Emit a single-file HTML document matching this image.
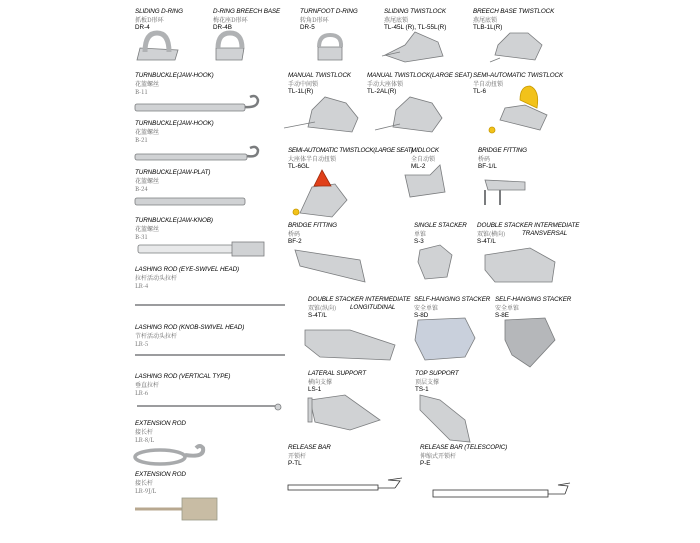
<!DOCTYPE html>
<html><head><meta charset="utf-8"><style>
body{margin:0;background:#fff;width:700px;height:543px;position:relative;overflow:hidden;font-family:"Liberation Sans","Noto Sans CJK SC",sans-serif}
.l{position:absolute;font-size:6.3px;line-height:8px;color:#000;white-space:nowrap}
.l i{font-style:italic;display:block;letter-spacing:-0.1px}
.l s{text-decoration:none;display:block;color:#666;font-family:"Noto Serif CJK SC","Noto Sans CJK SC",serif;font-size:6px}
.l b{font-weight:normal;display:block}
svg{position:absolute;left:0;top:0}
</style></head><body>
<svg width="700" height="543" viewBox="0 0 700 543">
<g fill="#d0d2d4" stroke="#7a7c7e" stroke-width="0.8">
<path d="M137 60 L175 60 L178 50 L140 48Z"/><path d="M145 52 Q145 33 157 33 Q169 33 169 52" fill="none" stroke-width="5" stroke="#b0b2b4"/>
<path d="M216 60 L242 60 L244 48 L216 48Z"/><path d="M218 48 Q218 33 230 33 Q242 33 242 48" fill="none" stroke-width="5" stroke="#b0b2b4"/>
<path d="M318 60 L342 60 L342 47 L318 47Z"/><path d="M319 47 Q319 35 330 35 Q342 35 341 47" fill="none" stroke-width="4" stroke="#b0b2b4"/>
<path d="M385 55 L405 62 L443 56 L438 42 L415 32 L405 45 Z"/><line x1="382" y1="56" x2="400" y2="52"/>
<path d="M495 55 L535 60 L542 45 L528 33 L510 33 L498 45Z"/><line x1="490" y1="62" x2="500" y2="58"/>
<rect x="135" y="104" width="110" height="7" rx="2"/><path d="M245 107 Q258 108 258 100 Q256 94 250 97" fill="none" stroke-width="2.5"/>
<rect x="135" y="154" width="112" height="6" rx="2"/><path d="M247 156 Q258 158 258 150 Q256 145 250 148" fill="none" stroke-width="2.5"/>
<rect x="135" y="198" width="110" height="7" rx="2"/>
<rect x="138" y="245" width="95" height="8" rx="2" fill="#e8e9ea"/><rect x="232" y="242" width="32" height="14"/>
<line x1="135" y1="305" x2="285" y2="305" stroke-width="1.4"/><line x1="135" y1="355" x2="285" y2="355" stroke-width="1.4"/>
<line x1="137" y1="406" x2="275" y2="406" stroke-width="1.4"/><circle cx="278" cy="407" r="3"/>
<ellipse cx="160" cy="457" rx="25" ry="7" fill="none" stroke-width="3.5" stroke="#a8aaac"/><path d="M185 455 Q205 458 203 448 Q200 444 196 448" fill="none" stroke-width="4" stroke="#a8aaac"/>
<line x1="135" y1="509" x2="185" y2="509" stroke-width="3" stroke="#b8a890"/><rect x="182" y="498" width="35" height="22" fill="#c8bca4" stroke="#998"/>
<path d="M308 127 L352 132 L358 118 L346 103 L325 97 L312 110Z"/><line x1="284" y1="128" x2="315" y2="122"/>
<path d="M393 127 L432 132 L442 118 L432 103 L410 97 L396 110Z"/><line x1="375" y1="130" x2="400" y2="124"/>
<path d="M500 120 L540 130 L547 115 L525 105 L505 108Z"/><path d="M520 100 Q520 86 530 86 Q540 90 537 108Z" fill="#f2c21a" stroke="#c89a00"/><circle cx="492" cy="130" r="3" fill="#f2c21a" stroke="#c89a00"/>
<path d="M300 213 L332 217 L347 200 L335 184 L312 187Z"/><path d="M314 186 L322 170 L331 186Z" fill="#e0401a" stroke="#a02a0a"/><circle cx="296" cy="212" r="3" fill="#f2c21a" stroke="#c89a00"/>
<path d="M405 175 L430 175 L440 165 L445 192 L410 197Z"/>
<path d="M485 180 L525 182 L525 190 L488 190Z"/><path d="M485 190 L485 205 M500 190 L500 205" stroke-width="2"/>
<path d="M295 250 L360 260 L365 282 L300 266Z"/>
<path d="M420 250 L440 245 L452 255 L447 277 L425 279 L418 262Z"/>
<path d="M485 255 L530 248 L555 262 L552 282 L495 282 L485 270Z"/>
<path d="M305 330 L350 330 L395 345 L390 360 L320 357 L305 345Z"/>
<path d="M418 320 L465 318 L475 338 L465 357 L425 360 L415 340Z" fill="#c9d0dc"/>
<path d="M505 320 L545 318 L555 340 L530 367 L512 355 L505 340Z" fill="#b5b7ba"/>
<path d="M310 400 L345 395 L380 420 L350 430 L315 422Z"/><rect x="308" y="398" width="4" height="24"/>
<path d="M420 395 L440 400 L465 420 L470 442 L450 440 L430 420 L420 410Z"/>
<rect x="288" y="485" width="90" height="5" fill="#fff" stroke="#333"/><line x1="378" y1="488" x2="395" y2="488" stroke="#333"/><path d="M395 488 L400 481 L388 480 L402 478" fill="none" stroke="#333"/>
<rect x="433" y="490" width="115" height="7" fill="#fff" stroke="#333"/><line x1="548" y1="494" x2="565" y2="494" stroke="#333"/><path d="M565 494 L568 486 L558 485 L570 483" fill="none" stroke="#333"/>
</g>
</svg>
<div class="l" style="left:135px;top:8px"><i>SLIDING D-RING</i><s>抓板D形环</s><b>DR-4</b></div>
<div class="l" style="left:213px;top:8px"><i>D-RING BREECH BASE</i><s>梅花座D形环</s><b>DR-4B</b></div>
<div class="l" style="left:300px;top:8px"><i>TURNFOOT D-RING</i><s>转角D形环</s><b>DR-5</b></div>
<div class="l" style="left:384px;top:8px"><i>SLIDING TWISTLOCK</i><s>燕尾底锁</s><b>TL-45L (R), TL-55L(R)</b></div>
<div class="l" style="left:473px;top:8px"><i>BREECH BASE TWISTLOCK</i><s>燕尾底锁</s><b>TLB-1L(R)</b></div>
<div class="l" style="left:135px;top:72px"><i>TURNBUCKLE(JAW-HOOK)</i><s>花篮螺丝</s><s>B-11</s></div>
<div class="l" style="left:288px;top:72px"><i>MANUAL TWISTLOCK</i><s>手动中间锁</s><b>TL-1L(R)</b></div>
<div class="l" style="left:367px;top:72px"><i>MANUAL TWISTLOCK(LARGE SEAT)</i><s>手动大座体锁</s><b>TL-2AL(R)</b></div>
<div class="l" style="left:473px;top:72px"><i>SEMI-AUTOMATIC TWISTLOCK</i><s>半自动扭锁</s><b>TL-6</b></div>
<div class="l" style="left:135px;top:120px"><i>TURNBUCKLE(JAW-HOOK)</i><s>花篮螺丝</s><s>B-21</s></div>
<div class="l" style="left:288px;top:147px"><i style="letter-spacing:-0.3px">SEMI-AUTOMATIC TWISTLOCK(LARGE SEAT)</i><s>大座体半自动扭锁</s><b>TL-6GL</b></div>
<div class="l" style="left:411px;top:147px"><i>MIDLOCK</i><s>全自动锁</s><b>ML-2</b></div>
<div class="l" style="left:478px;top:147px"><i>BRIDGE FITTING</i><s>桥码</s><b>BF-1/L</b></div>
<div class="l" style="left:135px;top:169px"><i>TURNBUCKLE(JAW-PLAT)</i><s>花篮螺丝</s><s>B-24</s></div>
<div class="l" style="left:135px;top:217px"><i>TURNBUCKLE(JAW-KNOB)</i><s>花篮螺丝</s><s>B-31</s></div>
<div class="l" style="left:288px;top:222px"><i>BRIDGE FITTING</i><s>桥码</s><b>BF-2</b></div>
<div class="l" style="left:414px;top:222px"><i>SINGLE STACKER</i><s>单锥</s><b>S-3</b></div>
<div class="l" style="left:477px;top:222px"><i>DOUBLE STACKER INTERMEDIATE</i><s>双锥(横向)</s><b>S-4T/L</b></div>
<div class="l" style="left:522px;top:230px"><i>TRANSVERSAL</i></div>
<div class="l" style="left:135px;top:266px"><i>LASHING ROD (EYE-SWIVEL HEAD)</i><s>拉杆活动头拉杆</s><s>LR-4</s></div>
<div class="l" style="left:308px;top:296px"><i>DOUBLE STACKER INTERMEDIATE</i><s>双锥(纵向)</s><b>S-4T/L</b></div>
<div class="l" style="left:350px;top:304px"><i>LONGITUDINAL</i></div>
<div class="l" style="left:414px;top:296px"><i>SELF-HANGING STACKER</i><s>安全单锥</s><b>S-8D</b></div>
<div class="l" style="left:495px;top:296px"><i>SELF-HANGING STACKER</i><s>安全单锥</s><b>S-8E</b></div>
<div class="l" style="left:135px;top:324px"><i>LASHING ROD (KNOB-SWIVEL HEAD)</i><s>节杆活动头拉杆</s><s>LR-5</s></div>
<div class="l" style="left:135px;top:373px"><i>LASHING ROD (VERTICAL TYPE)</i><s>垂直拉杆</s><s>LR-6</s></div>
<div class="l" style="left:308px;top:370px"><i>LATERAL SUPPORT</i><s>横向支撑</s><b>LS-1</b></div>
<div class="l" style="left:415px;top:370px"><i>TOP SUPPORT</i><s>顶层支撑</s><b>TS-1</b></div>
<div class="l" style="left:135px;top:420px"><i>EXTENSION ROD</i><s>接长杆</s><s>LR-8/L</s></div>
<div class="l" style="left:288px;top:444px"><i>RELEASE BAR</i><s>开锁杆</s><b>P-TL</b></div>
<div class="l" style="left:420px;top:444px"><i>RELEASE BAR (TELESCOPIC)</i><s>伸缩式开锁杆</s><b>P-E</b></div>
<div class="l" style="left:135px;top:471px"><i>EXTENSION ROD</i><s>接长杆</s><s>LR-9J/L</s></div>
</body></html>
